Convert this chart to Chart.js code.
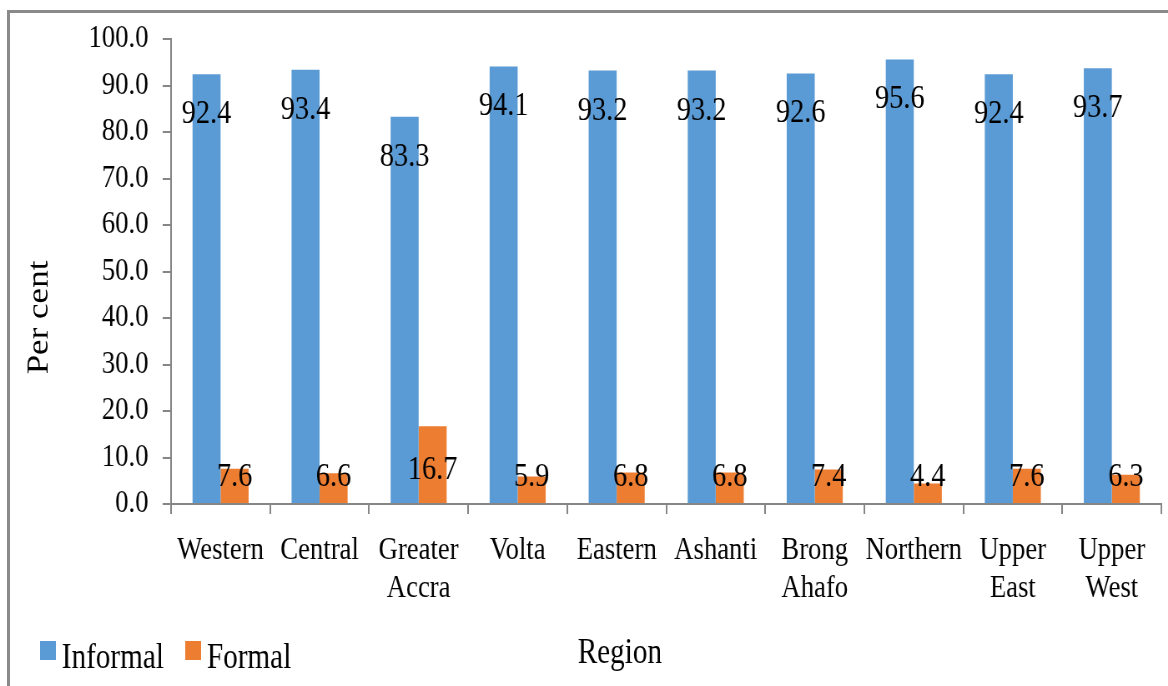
<!DOCTYPE html>
<html>
<head>
<meta charset="utf-8">
<script src="https://cdn.jsdelivr.net/npm/chart.js@4/dist/chart.umd.min.js"></script>
<style>
  html, body { margin: 0; padding: 0; background: #fff; overflow: hidden; }
  body { width: 1168px; height: 686px; position: relative; }
  #frame { position: absolute; left: 7px; top: 10px; width: 1200px; height: 700px; border: 3px solid #8a8a8a; }
  /* the source picture is squeezed sideways, so draw wide and squeeze */
  #wrap { position: absolute; left: 0; top: 0; width: 1400px; height: 686px; transform: scaleX(0.8343); transform-origin: 0 0; }
</style>
</head>
<body>
<div id="frame"></div>
<div id="wrap"><canvas id="regionChart" width="1400" height="686"></canvas></div>
<script>
const regions = ['Western', 'Central', ['Greater', 'Accra'], 'Volta', 'Eastern', 'Ashanti', ['Brong', 'Ahafo'], 'Northern', ['Upper', 'East'], ['Upper', 'West']];
const informal = [92.4, 93.4, 83.3, 94.1, 93.2, 93.2, 92.6, 95.6, 92.4, 93.7];
const formal = [7.6, 6.6, 16.7, 5.9, 6.8, 6.8, 7.4, 4.4, 7.6, 6.3];
const yTicks = [0, 10, 20, 30, 40, 50, 60, 70, 80, 90, 100];

const serif = 'Liberation Serif, Times New Roman, serif';
const axisGrey = '#868686';

// value labels, placed roughly like the Excel original
const valueLabels = {
    id: 'valueLabels',
    afterDatasetsDraw(chart) {
        const ctx = chart.ctx;
        const y = chart.scales.y;
        ctx.save();
        ctx.font = '34px ' + serif;
        ctx.fillStyle = '#000';
        ctx.textAlign = 'center';
        ctx.textBaseline = 'middle';
        chart.getDatasetMeta(0).data.forEach((bar, i) => {
            ctx.fillText(informal[i].toFixed(1), bar.x, bar.y + 40);
        });
        chart.getDatasetMeta(1).data.forEach((bar, i) => {
            const ly = Math.min(bar.y + 44, y.getPixelForValue(5.8));
            ctx.fillText(formal[i].toFixed(1), bar.x, ly);
        });
        ctx.restore();
    }
};

// legend + axis titles: the original has them on one row at the bottom
const bottomRow = {
    id: 'bottomRow',
    afterDraw(chart) {
        const ctx = chart.ctx;
        const a = chart.chartArea;
        ctx.save();
        ctx.font = '35px ' + serif;
        ctx.fillStyle = '#000';
        ctx.textBaseline = 'alphabetic';

        // legend
        const lx = [48, 222];
        chart.data.datasets.forEach((ds, i) => {
            ctx.fillStyle = ds.backgroundColor;
            ctx.fillRect(lx[i], 641, 19, 19);
            ctx.fillStyle = '#000';
            ctx.textAlign = 'left';
            ctx.fillText(ds.label, lx[i] + 26, 668);
        });

        ctx.textAlign = 'center';
        ctx.fillText('Region', a.left + 538, 663);

        ctx.textBaseline = 'middle';
        ctx.translate(a.left - 157, (a.top + a.bottom) / 2 + 46);
        ctx.rotate(-Math.PI / 2);
        ctx.fillText('Per cent', 0, 0);
        ctx.restore();
    }
};

new Chart(document.getElementById('regionChart'), {
    type: 'bar',
    data: {
        labels: regions,
        datasets: [
            { label: 'Informal', data: informal, backgroundColor: '#5b9bd5' },
            { label: 'Formal', data: formal, backgroundColor: '#ed7d31' }
        ]
    },
    options: {
        responsive: false,
        animation: false,
        layout: { padding: { left: 38, right: 8, top: 39, bottom: 71 } },
        datasets: { bar: { barPercentage: 1, categoryPercentage: 0.566 } },
        plugins: {
            legend: { display: false },
            tooltip: { enabled: false }
        },
        scales: {
            x: {
                afterFit: s => { s.height = 111; },
                grid: { drawOnChartArea: false, tickLength: 10, color: axisGrey, lineWidth: 2 },
                border: { color: axisGrey, width: 2 },
                ticks: {
                    font: { family: serif, size: 32, lineHeight: 1.2 },
                    color: '#000',
                    padding: 17,
                    maxRotation: 0,
                    autoSkip: false
                }
            },
            y: {
                min: 0,
                max: 100,
                afterFit: s => { s.width = 167; },
                afterBuildTicks: s => { s.ticks = yTicks.map(v => ({ value: v })); },
                grid: { drawOnChartArea: false, tickLength: 10, color: axisGrey, lineWidth: 2 },
                border: { color: axisGrey, width: 2 },
                ticks: {
                    font: { family: serif, size: 32 },
                    color: '#000',
                    padding: 17,
                    callback: v => v.toFixed(1)
                }
            }
        }
    },
    plugins: [valueLabels, bottomRow]
});
</script>
</body>
</html>
